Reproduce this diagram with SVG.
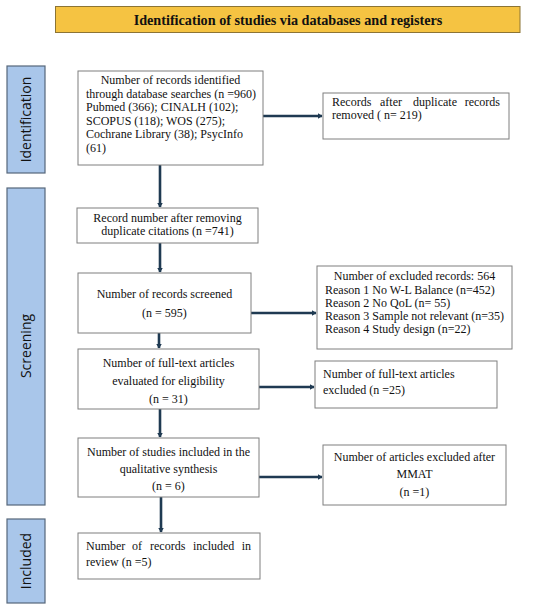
<svg xmlns="http://www.w3.org/2000/svg" width="550" height="611" viewBox="0 0 550 611">
<defs>
<marker id="ah" markerWidth="3" markerHeight="3" refX="1.6" refY="1.5" orient="auto" markerUnits="strokeWidth">
<path d="M0,0.4 L1.8,1.5 L0,2.6 Z" fill="#1F3A52"/>
</marker>
<style>
.box{fill:#fff;stroke:#7f7f7f;stroke-width:1}
.side{fill:#A9C6EA;stroke:#56677A;stroke-width:1.2}
.t{font-family:"Liberation Serif","DejaVu Serif",serif;font-size:12px;fill:#111}
.c{text-anchor:middle}
.s{font-family:"Open Sans","Liberation Sans",sans-serif;font-size:14px;fill:#111;text-anchor:middle}
.ar{stroke:#1F3A52;stroke-width:2.6;fill:none;marker-end:url(#ah)}
</style>
</defs>
<rect width="550" height="611" fill="#fff"/>
<g id="title">
<rect x="55.5" y="6.5" width="464.5" height="26" fill="#F5C342" stroke="#8C7434" stroke-width="1"/>
<text x="288" y="24.5" class="t c" style="font-weight:bold;font-size:14.2px">Identification of studies via databases and registers</text>
</g>
<g id="side-identification">
<rect x="7" y="66" width="38" height="107" class="side"/>
<text transform="translate(31,119.5) rotate(-90)" class="s">Identification</text>
</g>
<g id="side-screening">
<rect x="7" y="188" width="38" height="317" class="side"/>
<text transform="translate(31,346) rotate(-90)" class="s">Screening</text>
</g>
<g id="side-included">
<rect x="7" y="519" width="38" height="84" class="side"/>
<text transform="translate(31,561) rotate(-90)" class="s">Included</text>
</g>
<g id="connectors">
<line x1="263" y1="116" x2="322" y2="116" class="ar"/>
<line x1="160" y1="165" x2="160" y2="207" class="ar"/>
<line x1="160" y1="243" x2="160" y2="272" class="ar"/>
<line x1="251" y1="313" x2="316" y2="313" class="ar"/>
<line x1="159" y1="333" x2="159" y2="348" class="ar"/>
<line x1="259" y1="387" x2="314" y2="387" class="ar"/>
<line x1="160" y1="409" x2="160" y2="437" class="ar"/>
<line x1="259" y1="477" x2="322" y2="477" class="ar"/>
<line x1="161" y1="497" x2="161" y2="532" class="ar"/>
</g>
<g id="n1">
<rect x="78" y="71" width="185" height="94" class="box"/>
<text class="t"><tspan x="170.5" y="84" class="c">Number of records identified</tspan><tspan x="86" y="97.5">through database searches (n =960)</tspan><tspan x="86" y="111">Pubmed (366); CINALH (102);</tspan><tspan x="86" y="124.5">SCOPUS (118); WOS (275);</tspan><tspan x="86" y="138">Cochrane Library (38); PsycInfo</tspan><tspan x="86" y="152">(61)</tspan></text>
</g>
<g id="n2">
<rect x="323" y="93" width="186" height="46" class="box"/>
<text class="t"><tspan x="332" y="106">Records</tspan><tspan x="380" y="106">after</tspan><tspan x="413" y="106">duplicate</tspan><tspan x="500" y="106" style="text-anchor:end">records</tspan><tspan x="332" y="119">removed ( n= 219)</tspan></text>
</g>
<g id="n3">
<rect x="77" y="208" width="181" height="35" class="box"/>
<text class="t c"><tspan x="167.5" y="222">Record number after removing</tspan><tspan x="167.5" y="235">duplicate citations  (n =741)</tspan></text>
</g>
<g id="n4">
<rect x="78" y="273" width="173" height="60" class="box"/>
<text class="t c"><tspan x="164.5" y="298">Number of records screened</tspan><tspan x="164.5" y="317">(n = 595)</tspan></text>
</g>
<g id="n5">
<rect x="317" y="266" width="195" height="83" class="box"/>
<text class="t"><tspan x="414.5" y="280" class="c">Number of excluded records: 564</tspan><tspan x="325" y="294">Reason 1 No W-L Balance   (n=452)</tspan><tspan x="325" y="307">Reason 2 No QoL (n= 55)</tspan><tspan x="325" y="319.5">Reason 3 Sample not relevant (n=35)</tspan><tspan x="325" y="333">Reason 4 Study design (n=22)</tspan></text>
</g>
<g id="n6">
<rect x="78" y="349" width="181" height="60" class="box"/>
<text class="t c"><tspan x="168.5" y="367">Number of full-text articles</tspan><tspan x="168.5" y="385">evaluated for eligibility</tspan><tspan x="168.5" y="403">(n = 31)</tspan></text>
</g>
<g id="n7">
<rect x="315" y="361" width="182" height="47" class="box"/>
<text class="t"><tspan x="323" y="378">Number of full-text articles</tspan><tspan x="323" y="394">excluded (n =25)</tspan></text>
</g>
<g id="n8">
<rect x="78" y="438" width="181" height="59" class="box"/>
<text class="t c"><tspan x="168.5" y="456">Number of studies included in the</tspan><tspan x="168.5" y="473">qualitative synthesis</tspan><tspan x="168.5" y="490">(n = 6)</tspan></text>
</g>
<g id="n9">
<rect x="323" y="445" width="183" height="60" class="box"/>
<text class="t c"><tspan x="414.5" y="461">Number of articles excluded after</tspan><tspan x="414.5" y="478">MMAT</tspan><tspan x="414.5" y="496">(n =1)</tspan></text>
</g>
<g id="n10">
<rect x="78" y="533" width="182" height="46" class="box"/>
<text class="t"><tspan x="86" y="550">Number</tspan><tspan x="132" y="550">of</tspan><tspan x="150" y="550">records</tspan><tspan x="193" y="550">included</tspan><tspan x="251" y="550" style="text-anchor:end">in</tspan><tspan x="86" y="566">review  (n =5)</tspan></text>
</g>
</svg>
